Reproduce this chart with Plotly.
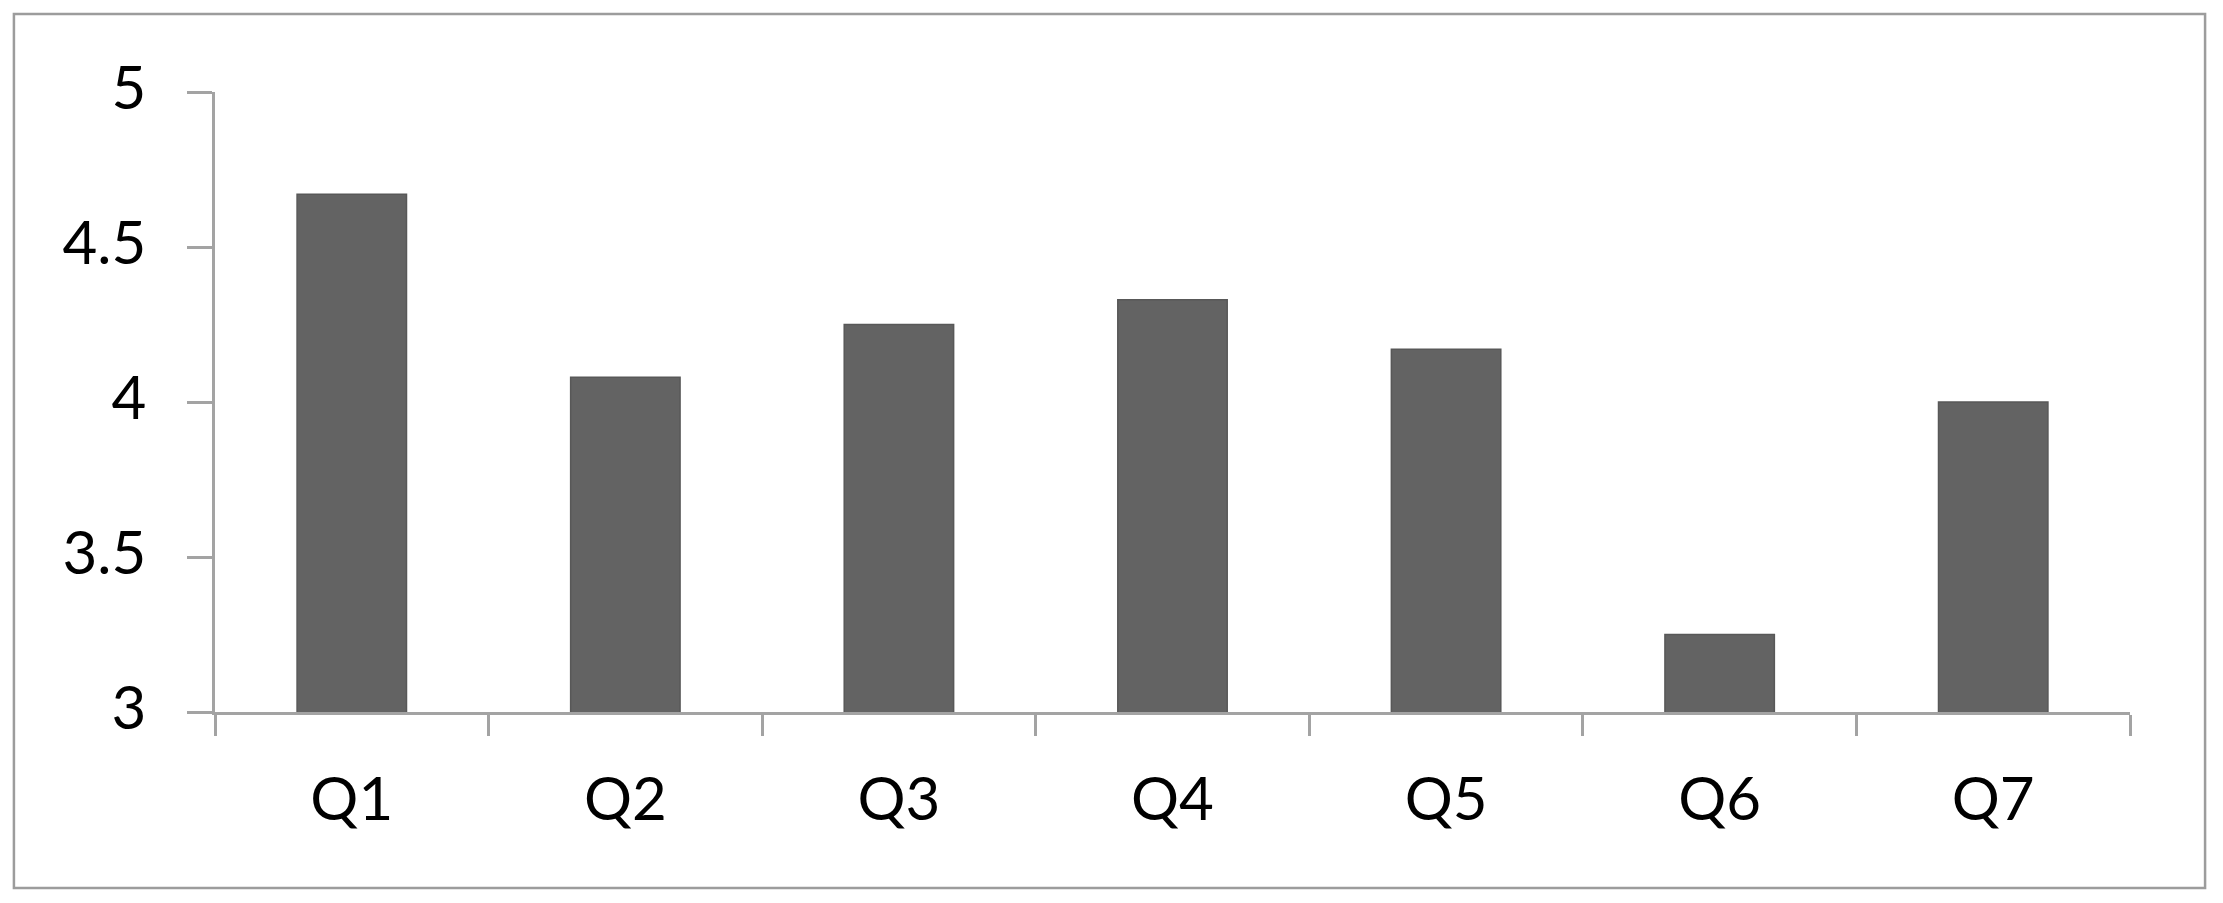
import plotly.graph_objects as go

# survey question means
questions = ["Q1", "Q2", "Q3", "Q4", "Q5", "Q6", "Q7"]
mean_scores = [4.67, 4.08, 4.25, 4.33, 4.17, 3.25, 4.00]
y_ticks = [3, 3.5, 4, 4.5, 5]

axis_grey = "#a3a3a3"
label_font = dict(family="Lato, 'Open Sans', sans-serif", size=60, color="#000000")

fig = go.Figure()
fig.add_trace(go.Bar(
    x=questions,
    y=mean_scores,
    marker=dict(color="#636363", line=dict(color="#585858", width=1.5)),
    showlegend=False,
))

# page body adds an 8px margin, so the figure is a bit smaller than the window
fig.update_layout(
    width=2215,
    height=895,
    margin=dict(l=207, r=93, t=84, b=191),
    paper_bgcolor="white",
    plot_bgcolor="white",
    bargap=0.6,
    font=label_font,
)

fig.update_xaxes(
    type="category",
    range=[-0.5, 6.5],
    showgrid=False,
    showline=True,
    linecolor=axis_grey,
    linewidth=2.5,
    ticks="outside",
    tickson="boundaries",
    ticklen=21,
    tickwidth=2.5,
    tickcolor=axis_grey,
    ticklabelstandoff=33,
    tickfont=label_font,
)

fig.update_yaxes(
    range=[3, 5],
    tickvals=y_ticks,
    showgrid=False,
    zeroline=False,
    showline=True,
    linecolor=axis_grey,
    linewidth=2.5,
    ticks="outside",
    ticklen=25,
    tickwidth=2.5,
    tickcolor=axis_grey,
    ticklabelstandoff=29,
    ticklabelshift=-4,
    tickfont=label_font,
)

# light grey frame round the whole chart area
fig.add_shape(
    type="rect", xref="paper", yref="paper",
    x0=-0.105, x1=1.0392, y0=-0.2839, y1=1.1258,
    line=dict(color="#9c9c9c", width=2.5),
    fillcolor="rgba(0,0,0,0)",
    layer="below",
)

fig.write_html("out.html", config={"displayModeBar": False})
